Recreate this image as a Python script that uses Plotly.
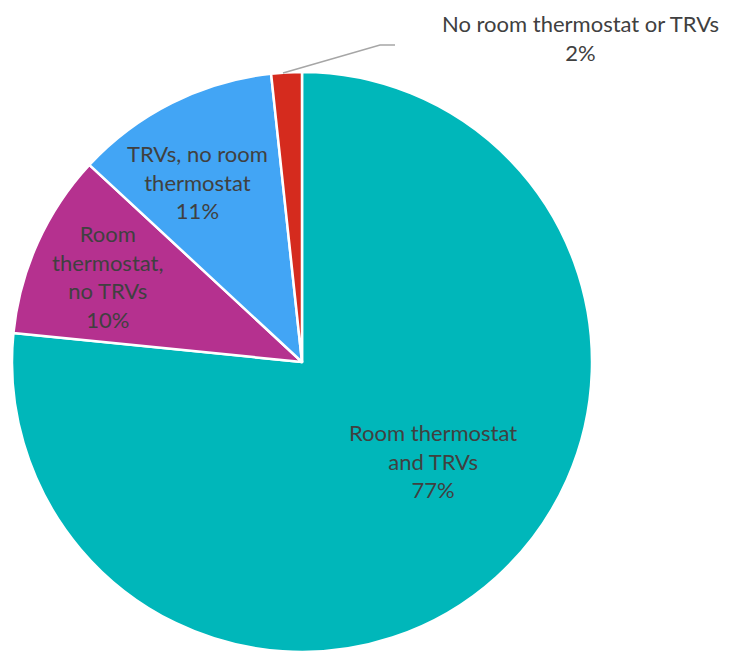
import plotly.graph_objects as go

# heating controls share (clockwise from 12 o'clock)
categories = ['Room thermostat and TRVs', 'Room thermostat, no TRVs',
              'TRVs, no room thermostat', 'No room thermostat or TRVs']
shares = [76.6, 10.3, 11.4, 1.7]
label_text = ['Room thermostat<br>and TRVs', 'Room<br>thermostat,<br>no TRVs',
              'TRVs, no room<br>thermostat', 'No room thermostat or TRVs']
colors = ['#00B7BA', '#B5318F', '#42A5F5', '#D52B1E']

# the page body has an 8px margin, so the figure is drawn 8px in
OFF = 8
W, H = 729 - OFF, 652 - OFF


def px_to_paper(x, y):
    return (x - OFF) / W, 1 - (y - OFF) / H


cx, cy, r = 302, 362, 290
fig = go.Figure(go.Pie(
    labels=categories,
    values=shares,
    sort=False,
    direction='clockwise',
    rotation=0,
    marker=dict(colors=colors, line=dict(color='white', width=2.5)),
    textinfo='none',
    hoverinfo='label+percent',
    domain=dict(x=[(cx - r - OFF) / W, (cx + r - OFF) / W],
                y=[0, 2 * r / H]),
    showlegend=False,
))

# label positions in page pixels (centre of each text block)
label_pos = [(433, 461), (107, 276), (197, 182), (580, 38)]
total = sum(shares)
for txt, v, (lx, ly) in zip(label_text, shares, label_pos):
    ax_, ay_ = px_to_paper(lx, ly)
    fig.add_annotation(
        x=ax_, y=ay_, xref='paper', yref='paper',
        text=f'{txt}<br>{round(v / total * 100)}%',
        showarrow=False, xanchor='center', yanchor='middle',
        font=dict(family='Lato', size=22, color='#404040'),
    )

# leader line for the small slice
pts = [px_to_paper(x, y) for x, y in [(283, 73), (380, 45), (395, 45)]]
path = 'M ' + ' L '.join(f'{x} {y}' for x, y in pts)
fig.add_shape(type='path', path=path, xref='paper', yref='paper',
              line=dict(color='#A6A6A6', width=1.5))

fig.update_layout(
    width=W, height=H,
    margin=dict(l=0, r=0, t=0, b=0),
    paper_bgcolor='white',
)

fig.write_html('out.html')
